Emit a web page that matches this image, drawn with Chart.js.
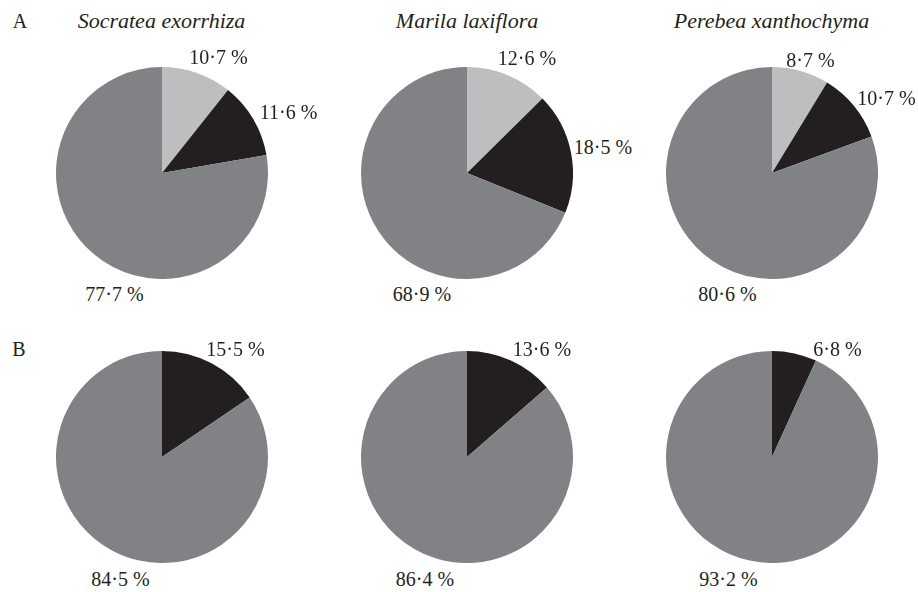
<!DOCTYPE html>
<html>
<head>
<meta charset="utf-8">
<script src="https://cdn.jsdelivr.net/npm/chart.js@4/dist/chart.umd.min.js"></script>
<style>
  html, body { margin: 0; padding: 0; background: #fff; }
  #wrap { position: relative; width: 918px; height: 592px; overflow: hidden; font-family: "Liberation Serif", "Times New Roman", serif; color: #231f20; }
  .pie { position: absolute; width: 212px; height: 212px; }
  .t { position: absolute; font-size: 20px; white-space: nowrap; transform: translate(-50%, -50%); line-height: 1; }
  .title { font-style: italic; font-size: 22px; }
</style>
</head>
<body>
<div id="wrap"></div>
<script>
// ---- data ----
const species = ["Socratea exorrhiza", "Marila laxiflora", "Perebea xanthochyma"];
const panels = ["A", "B"];
const sliceNames = ["light", "dark", "grey"];
const rowA_light = [10.7, 12.6, 8.7];
const rowA_dark  = [11.6, 18.5, 10.7];
const rowA_grey  = [77.7, 68.9, 80.6];
const rowB_light = [0, 0, 0];
const rowB_dark  = [15.5, 13.6, 6.8];
const rowB_grey  = [84.5, 86.4, 93.2];
const sliceColors = ["#bcbec0", "#231f20", "#808285"];

// ---- layout ----
const colX = [161.5, 467, 771.5];
const rowY = [173, 456.5];
const R = 106;
// label offsets relative to pie centre, per row/column/slice
const labelPos = {
  A: [
    [[57, -116], [127, -61], [-47, 121]],
    [[60, -115], [136, -26], [-45, 121]],
    [[39, -113], [115, -75], [-44, 121]]
  ],
  B: [
    [null, [74, -108], [-41, 122]],
    [null, [75, -108], [-42, 122]],
    [null, [66, -108], [-43, 122]]
  ]
};

const wrap = document.getElementById("wrap");
function addText(txt, x, y, cls) {
  const d = document.createElement("div");
  d.className = "t" + (cls ? " " + cls : "");
  d.textContent = txt;
  d.style.left = x + "px";
  d.style.top = y + "px";
  wrap.appendChild(d);
}
function fmt(v) { return v.toFixed(1).replace(".", "·") + " %"; }

addText("A", 20, 21);
addText("B", 19, 349);
species.forEach((s, i) => addText(s, colX[i], 21, "title"));

const rows = [
  [rowA_light, rowA_dark, rowA_grey],
  [rowB_light, rowB_dark, rowB_grey]
];

rows.forEach((row, r) => {
  species.forEach((sp, c) => {
    const div = document.createElement("div");
    div.className = "pie";
    div.style.left = (colX[c] - R) + "px";
    div.style.top = (rowY[r] - R) + "px";
    const cv = document.createElement("canvas");
    div.appendChild(cv);
    wrap.appendChild(div);
    const vals = row.map(a => a[c]);
    new Chart(cv, {
      type: "pie",
      data: {
        labels: sliceNames,
        datasets: [{ data: vals, backgroundColor: sliceColors, borderWidth: 0, hoverOffset: 0 }]
      },
      options: {
        responsive: true,
        maintainAspectRatio: false,
        animation: false,
        events: [],
        layout: { padding: 0 },
        plugins: { legend: { display: false }, tooltip: { enabled: false } }
      }
    });
    vals.forEach((v, k) => {
      const p = labelPos[panels[r]][c][k];
      if (v > 0 && p) addText(fmt(v), colX[c] + p[0], rowY[r] + p[1]);
    });
  });
});
</script>
</body>
</html>
